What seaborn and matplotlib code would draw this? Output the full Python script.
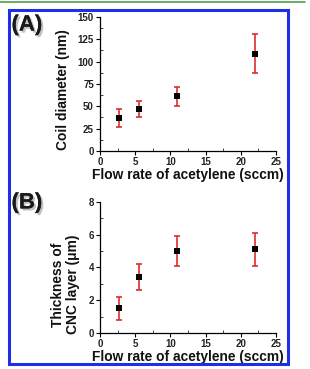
import matplotlib
matplotlib.use("Agg")
import matplotlib.pyplot as plt
import seaborn as sns
import pandas as pd
from matplotlib.patches import Rectangle
from matplotlib.lines import Line2D
import matplotlib.patheffects as pe
from matplotlib.ticker import MultipleLocator

flow = [2.75, 5.5, 11, 22]
coil_diam = [37, 47, 61, 109]
coil_err = [10, 9, 11, 22]
thickness = [1.5, 3.4, 5.0, 5.1]
thick_err = [0.7, 0.8, 0.9, 1.0]
x_ticks = [0, 5, 10, 15, 20, 25]
a_yticks = [0, 25, 50, 75, 100, 125, 150]
b_yticks = [0, 2, 4, 6, 8]

sns.set_theme(style="ticks")
plt.rcParams['font.family'] = ['Liberation Sans', 'DejaVu Sans']
plt.rcParams['font.weight'] = 'bold'

fig = plt.figure(figsize=(3.1, 3.69), dpi=100)
fig.patch.set_facecolor('white')

axA = fig.add_axes([0.323, 0.591, 0.567, 0.363])
axB = fig.add_axes([0.323, 0.0976, 0.567, 0.355])

dfA = pd.DataFrame({"flow": flow, "val": coil_diam, "err": coil_err})
dfB = pd.DataFrame({"flow": flow, "val": thickness, "err": thick_err})

for ax, df, yt, ylab, ylc, xly in [
        (axA, dfA, a_yticks, "Coil diameter (nm)", (-0.21, 0.455), -0.18),
        (axB, dfB, b_yticks, "Thickness of\nCNC layer (\u03bcm)", (-0.198, 0.37), -0.183)]:
    ax.errorbar(df["flow"], df["val"], yerr=df["err"], fmt='none', ecolor='#d9302c',
                elinewidth=1.2, capsize=2, capthick=1.2, zorder=2)
    sns.scatterplot(data=df, x="flow", y="val", ax=ax, marker='s', color='black',
                    s=22, edgecolor='black', linewidth=0, zorder=3)
    ax.set_xlim(0, 25)
    ax.set_ylim(yt[0], yt[-1])
    ax.set_xticks(x_ticks)
    ax.set_yticks(yt)
    ax.xaxis.set_minor_locator(MultipleLocator(2.5))
    ax.yaxis.set_minor_locator(MultipleLocator((yt[1] - yt[0]) / 2))
    ax.tick_params(axis='both', which='major', length=3, width=0.8, labelsize=7,
                   pad=1.5, direction='out', color='black')
    ax.tick_params(axis='both', which='minor', length=2, width=0.6, direction='in')
    for lab in ax.get_xticklabels() + ax.get_yticklabels():
        lab.set_fontweight('bold')
        lab.set_color('#222222')
    sns.despine(ax=ax)
    for s in ['left', 'bottom']:
        ax.spines[s].set_linewidth(0.9)
        ax.spines[s].set_color('black')
    ax.set_xlabel("Flow rate of acetylene (sccm)", fontsize=9.9, fontweight='bold',
                  color='#111111')
    ax.set_ylabel(ylab, fontsize=9.9, fontweight='bold', color='#111111',
                  linespacing=1.05)
    ax.xaxis.set_label_coords(0.5, xly)
    ax.xaxis.label.set_va('center')
    ax.yaxis.set_label_coords(*ylc)
    ax.yaxis.label.set_va('center')

shadow = [pe.withSimplePatchShadow(offset=(1.5, -1.5), shadow_rgbFace='#999999', alpha=0.6),
          pe.Normal()]
fig.text(0.037, 0.932, "(A)", fontsize=16, fontweight='bold', color='#1a1a1a',
         ha='left', va='center', path_effects=shadow)
fig.text(0.037, 0.45, "(B)", fontsize=16, fontweight='bold', color='#1a1a1a',
         ha='left', va='center', path_effects=shadow)

fig.patches.append(Rectangle((0.029, 0.0136), 0.899, 0.959, transform=fig.transFigure,
                             fill=False, edgecolor='#1f2fe6', linewidth=2.2, zorder=0))
fig.lines.append(Line2D([0, 0.985], [0.995, 0.995], transform=fig.transFigure,
                        color='#4f9f4f', linewidth=1.2))

fig.savefig("out.png", dpi=100, facecolor='white')
